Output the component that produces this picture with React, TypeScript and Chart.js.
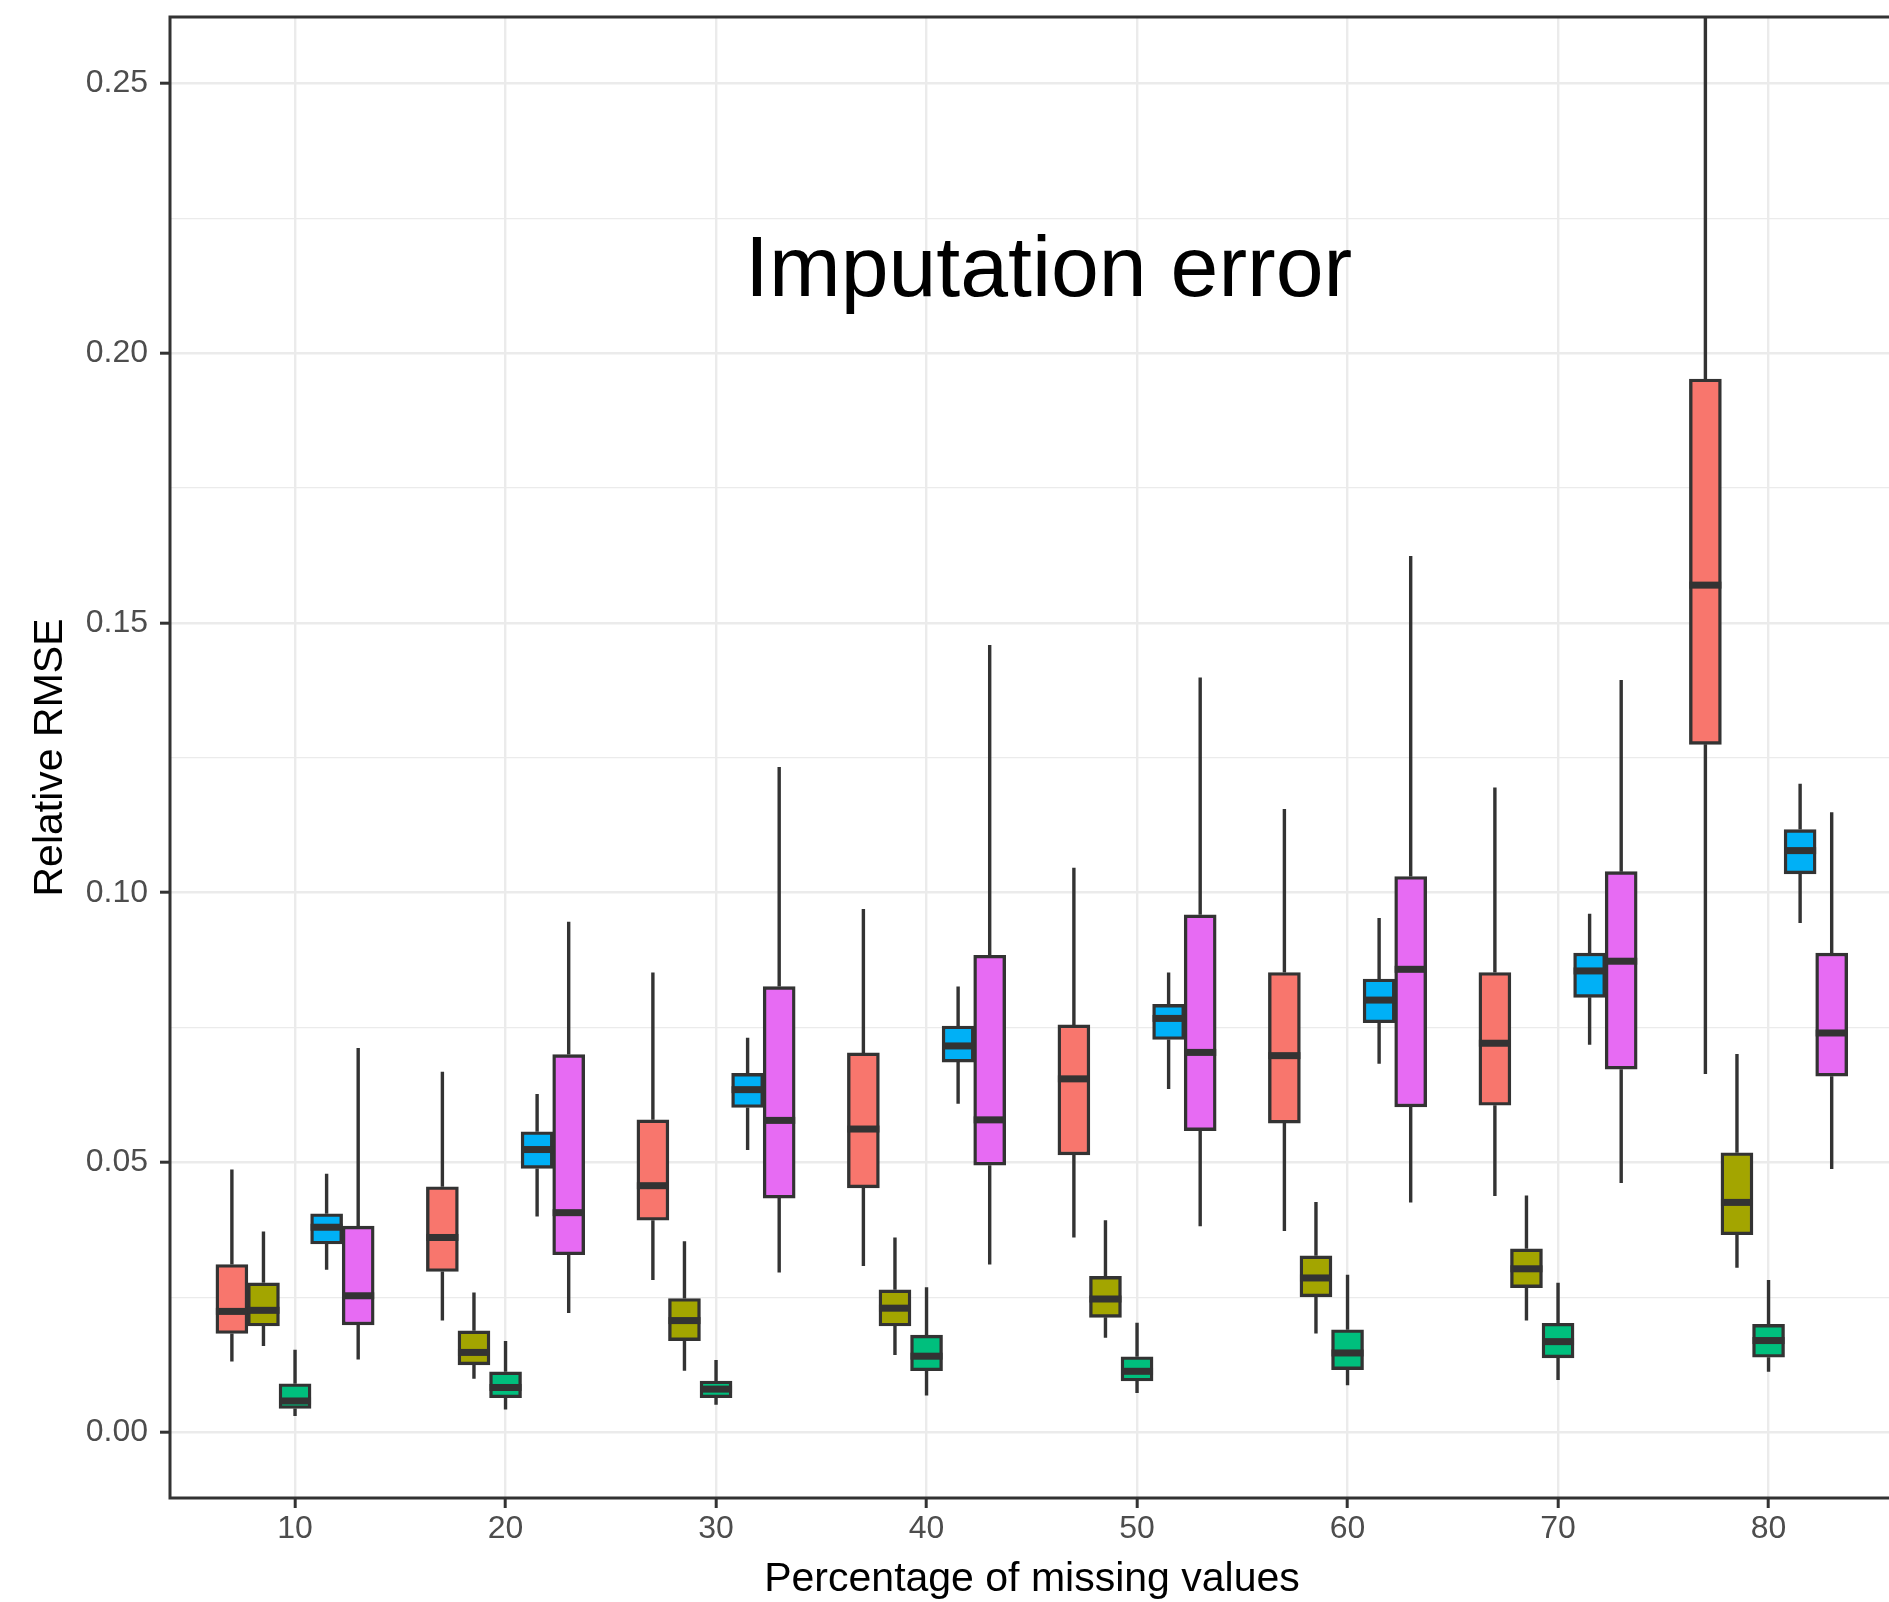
import React, { useEffect, useRef } from 'react';
import { Chart, registerables } from 'chart.js';

Chart.register(...registerables);

// ---------------- data ----------------
const PERCENTAGES = [10, 20, 30, 40, 50, 60, 70, 80];
const DODGE_OFFSETS = [-3, -1.5, 0, 1.5, 3];
const SERIES_COLORS = ['#F8766D', '#A3A500', '#00BF7D', '#00B0F6', '#E76BF3'];

// each entry: [lower whisker, Q1, median, Q3, upper whisker]
const SERIES_RED = [
  [0.0131, 0.0183, 0.0224, 0.0311, 0.0487],
  [0.0207, 0.0298, 0.0361, 0.0455, 0.0668],
  [0.0282, 0.0393, 0.0457, 0.0579, 0.0852],
  [0.0308, 0.0453, 0.0562, 0.0703, 0.097],
  [0.0361, 0.0514, 0.0655, 0.0755, 0.1046],
  [0.0373, 0.0573, 0.0698, 0.0852, 0.1155],
  [0.0438, 0.0606, 0.0721, 0.0852, 0.1195],
  [0.0664, 0.1275, 0.157, 0.1952, 0.29],
];
const SERIES_OLIVE = [
  [0.016, 0.0197, 0.0226, 0.0277, 0.0372],
  [0.0099, 0.0125, 0.0148, 0.0188, 0.0259],
  [0.0114, 0.017, 0.0207, 0.0248, 0.0354],
  [0.0143, 0.0197, 0.023, 0.0264, 0.0361],
  [0.0175, 0.0213, 0.0247, 0.0289, 0.0393],
  [0.0183, 0.0251, 0.0286, 0.0327, 0.0427],
  [0.0207, 0.0268, 0.0303, 0.034, 0.0439],
  [0.0305, 0.0366, 0.0426, 0.0518, 0.0701],
];
const SERIES_GREEN = [
  [0.003, 0.0044, 0.0058, 0.009, 0.0153],
  [0.0042, 0.0064, 0.0083, 0.0112, 0.0169],
  [0.0051, 0.0064, 0.008, 0.0095, 0.0134],
  [0.0068, 0.0114, 0.0141, 0.018, 0.0269],
  [0.0073, 0.0095, 0.0113, 0.014, 0.0203],
  [0.0087, 0.0116, 0.0147, 0.019, 0.0292],
  [0.0097, 0.0138, 0.0168, 0.0202, 0.0277],
  [0.0112, 0.0139, 0.017, 0.02, 0.0282],
];
const SERIES_BLUE = [
  [0.0301, 0.0349, 0.038, 0.0405, 0.0479],
  [0.04, 0.0489, 0.0524, 0.0557, 0.0627],
  [0.0523, 0.0602, 0.0635, 0.0665, 0.0731],
  [0.0609, 0.0686, 0.0716, 0.0753, 0.0826],
  [0.0636, 0.0728, 0.0767, 0.0793, 0.0852],
  [0.0683, 0.0759, 0.0801, 0.084, 0.0953],
  [0.0718, 0.0806, 0.0855, 0.0888, 0.0961],
  [0.0944, 0.1035, 0.1078, 0.1117, 0.1202],
];
const SERIES_MAGENTA = [
  [0.0135, 0.0199, 0.0253, 0.0382, 0.0712],
  [0.0221, 0.0329, 0.0407, 0.07, 0.0946],
  [0.0296, 0.0434, 0.0578, 0.0826, 0.1233],
  [0.0311, 0.0495, 0.0579, 0.0884, 0.1459],
  [0.0382, 0.0559, 0.0704, 0.0959, 0.1399],
  [0.0426, 0.0603, 0.0858, 0.103, 0.1624],
  [0.0462, 0.0673, 0.0873, 0.1039, 0.1394],
  [0.0488, 0.066, 0.074, 0.0888, 0.1149],
];
const ALL_SERIES = [SERIES_RED, SERIES_OLIVE, SERIES_GREEN, SERIES_BLUE, SERIES_MAGENTA];

const PLOT_TITLE = 'Imputation error';
const TITLE_X = 45.8;
const TITLE_Y = 0.2106;
const X_LABEL = 'Percentage of missing values';
const Y_LABEL = 'Relative RMSE';

// -------------- style --------------
const FONT = "'Liberation Sans', Arial, Helvetica, sans-serif";
const OUTLINE = '#333333';
const GRID = '#EBEBEB';
const X_MIN = 4.06;
const X_MAX = 85.96;
const Y_MIN = -0.01218;
const Y_MAX = 0.26229;
const LINE_W = 3.4;
const MEDIAN_W = 7;

const isMajor = (v: number) => Math.abs(v / 0.05 - Math.round(v / 0.05)) < 1e-6;

const boxPlugin = {
  id: 'boxExtras',
  beforeDatasetsDraw(chart: any) {
    const { ctx, chartArea } = chart;
    const yScale = chart.scales.y;
    ctx.save();
    ctx.beginPath();
    ctx.rect(chartArea.left, chartArea.top, chartArea.right - chartArea.left, chartArea.bottom - chartArea.top);
    ctx.clip();
    ctx.strokeStyle = OUTLINE;
    ctx.lineWidth = LINE_W;
    ctx.lineCap = 'butt';
    ALL_SERIES.forEach((series, k) => {
      const meta = chart.getDatasetMeta(k);
      series.forEach((s, i) => {
        const el = meta.data[i];
        if (!el) return;
        const x = el.x;
        ctx.beginPath();
        ctx.moveTo(x, yScale.getPixelForValue(s[0]));
        ctx.lineTo(x, yScale.getPixelForValue(s[1]));
        ctx.moveTo(x, yScale.getPixelForValue(s[3]));
        ctx.lineTo(x, yScale.getPixelForValue(s[4]));
        ctx.stroke();
      });
    });
    ctx.restore();
  },
  afterDatasetsDraw(chart: any) {
    const { ctx, chartArea } = chart;
    const yScale = chart.scales.y;
    const xScale = chart.scales.x;
    ctx.save();
    ctx.beginPath();
    ctx.rect(chartArea.left, chartArea.top, chartArea.right - chartArea.left, chartArea.bottom - chartArea.top);
    ctx.clip();
    ctx.fillStyle = OUTLINE;
    ALL_SERIES.forEach((series, k) => {
      const meta = chart.getDatasetMeta(k);
      series.forEach((s, i) => {
        const el = meta.data[i];
        if (!el) return;
        const w = el.width;
        const y = yScale.getPixelForValue(s[2]);
        ctx.fillRect(el.x - w / 2, y - MEDIAN_W / 2, w, MEDIAN_W);
      });
    });
    // annotation text
    ctx.fillStyle = '#000000';
    ctx.font = `86px ${FONT}`;
    ctx.textAlign = 'center';
    ctx.textBaseline = 'alphabetic';
    ctx.fillText(PLOT_TITLE, xScale.getPixelForValue(TITLE_X), yScale.getPixelForValue(TITLE_Y));
    ctx.restore();
    // panel border
    ctx.save();
    ctx.strokeStyle = OUTLINE;
    ctx.lineWidth = 3;
    ctx.strokeRect(chartArea.left, chartArea.top, chartArea.right - chartArea.left, chartArea.bottom - chartArea.top);
    ctx.restore();
  },
};

export default function App() {
  const canvasRef = useRef<HTMLCanvasElement | null>(null);

  useEffect(() => {
    document.body.style.margin = '0';
    const canvas = canvasRef.current;
    if (!canvas) return;
    const datasets = ALL_SERIES.map((series, k) => ({
      type: 'bar' as const,
      label: `series ${k + 1}`,
      data: PERCENTAGES.map((p, i) => ({ x: p + DODGE_OFFSETS[k], y: [series[i][1], series[i][3]] })),
      backgroundColor: SERIES_COLORS[k],
      borderColor: OUTLINE,
      borderWidth: LINE_W,
      borderSkipped: false,
      barThickness: 32,
      grouped: false,
    }));

    const chart = new Chart(canvas, {
      type: 'bar',
      data: { datasets } as any,
      plugins: [boxPlugin],
      options: {
        responsive: false,
        animation: false,
        devicePixelRatio: 1,
        layout: { padding: { top: 17, left: 0, right: 0, bottom: 0 } },
        plugins: { legend: { display: false }, tooltip: { enabled: false } },
        scales: {
          x: {
            type: 'linear',
            min: X_MIN,
            max: X_MAX,
            offset: false,
            ticks: {
              stepSize: 10,
              includeBounds: false,
              autoSkip: false,
              maxRotation: 0,
              color: '#4D4D4D',
              font: { family: FONT, size: 32 },
              padding: 2,
              callback: (v: any) => String(v),
            },
            grid: {
              color: GRID,
              lineWidth: 2.4,
              tickColor: OUTLINE,
              tickWidth: 3,
              tickLength: 10,
              offset: false,
            },
            border: { display: false },
            title: {
              display: true,
              text: X_LABEL,
              color: '#000000',
              font: { family: FONT, size: 41, lineHeight: 1.1 },
              padding: { top: 0, bottom: 0 },
            },
            afterFit: (s: any) => {
              s.height = 104;
              s.paddingLeft = 0;
              s.paddingRight = 0;
            },
          },
          y: {
            type: 'linear',
            min: Y_MIN,
            max: Y_MAX,
            ticks: {
              stepSize: 0.025,
              includeBounds: false,
              autoSkip: false,
              color: '#4D4D4D',
              font: { family: FONT, size: 32 },
              padding: 12,
              callback: (v: any) => (isMajor(Number(v)) ? Number(v).toFixed(2) : ''),
            },
            grid: {
              color: GRID,
              lineWidth: (c: any) => (c.tick && isMajor(c.tick.value) ? 2.4 : 1.2),
              tickColor: (c: any) => (c.tick && isMajor(c.tick.value) ? OUTLINE : 'rgba(0,0,0,0)'),
              tickWidth: 3,
              tickLength: 10,
            },
            border: { display: false },
            title: {
              display: true,
              text: Y_LABEL,
              color: '#000000',
              font: { family: FONT, size: 41, lineHeight: 1.2 },
              padding: { top: 26, bottom: 0 },
            },
            afterFit: (s: any) => {
              s.width = 170;
              s.paddingTop = 0;
              s.paddingBottom = 0;
            },
          },
        },
      } as any,
    });
    return () => chart.destroy();
  }, []);

  return (
    <div style={{ width: 1889, height: 1602, overflow: 'hidden', background: '#FFFFFF' }}>
      <canvas ref={canvasRef} width={1894} height={1602} style={{ display: 'block' }} />
    </div>
  );
}
